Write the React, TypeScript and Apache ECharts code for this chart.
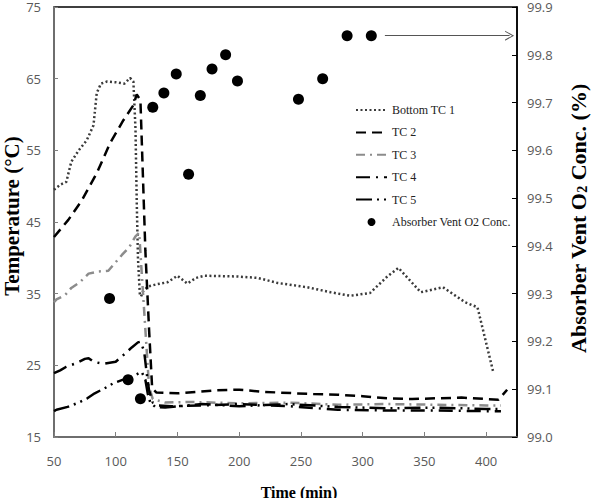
import React, { useEffect, useRef } from "react";
import * as echarts from "echarts";

// Time axis ticks (min)
const timeTicks = [50, 100, 150, 200, 250, 300, 350, 400];

// Thermocouple readings: [time (min), temperature (°C)]
const tc1: [number, number][] = [
  [50, 49.5], [55, 50.2], [60, 50.6], [64, 53.4], [70, 55], [76.5, 56.4], [82, 58.5], [84.6, 63],
  [88, 64.3], [93, 64.6], [100, 64.5], [107, 64.3], [111.6, 65.1], [114.3, 64.6], [116, 58],
  [117, 48], [118, 40], [119.5, 35], [120.5, 34.6], [122, 35.3], [126, 36], [133, 36.3],
  [142, 36.6], [150, 37.5], [158, 36.4], [165, 37.2], [172, 37.5], [198, 37.4], [215, 37.2],
  [231, 36.5], [255, 35.9], [274, 35.2], [290, 34.7], [306, 35.1], [320, 37.4], [329, 38.6],
  [347, 35.2], [365, 35.9], [383, 33.8], [393, 33.1], [406, 23.9],
];
const tc2: [number, number][] = [
  [50, 42.9], [61.6, 45.3], [72.5, 48], [84.6, 51.8], [95.4, 56], [106.2, 59.2], [114.3, 61.3],
  [117, 62.8], [120, 62], [124, 41], [127, 30], [129.5, 21.8], [133, 21.2], [150, 21.1],
  [165, 21.3], [180, 21.5], [200, 21.6], [220, 21.3], [245, 21.1], [260, 21.0], [280, 20.9],
  [300, 20.7], [320, 20.4], [340, 20.3], [360, 20.4], [380, 20.5], [400, 20.3], [410, 20.2],
  [417, 21.6],
];
const tc3: [number, number][] = [
  [50, 33.8], [52, 34.2], [59, 34.8], [64, 35.8], [71, 36.6], [78, 37.8], [86, 38.1], [94, 38.2],
  [99.5, 39.3], [105, 40.4], [111, 41.5], [116, 43], [119, 43.5], [121, 38], [124, 30], [127, 22],
  [130, 20.3], [140, 19.8], [160, 19.9], [200, 19.7], [240, 19.8], [280, 19.5], [320, 19.6],
  [360, 19.5], [400, 19.4], [412, 19.4],
];
const tc4: [number, number][] = [
  [50, 23.9], [55, 24.3], [60, 24.8], [68, 25.3], [75, 25.9], [78, 26], [82, 25.5], [90, 25.2],
  [100, 25.5], [108, 26.7], [113, 27.5], [118, 28.2], [120, 28.3], [123, 27], [125, 24], [127, 21.5],
  [130, 19.8], [135, 19.4], [145, 19.3], [170, 19.4], [200, 19.6], [240, 19.3], [280, 18.8],
  [320, 18.7], [360, 18.7], [400, 18.6], [412, 18.6],
];
const tc5: [number, number][] = [
  [50, 18.6], [52, 18.8], [61, 19.2], [70, 19.8], [77, 20.4], [83, 21.1], [91, 21.8], [98, 22.5],
  [106, 23], [113, 23.4], [121, 24.1], [124, 23], [126, 21], [128, 19.8], [132, 19.2], [140, 19.1],
  [170, 19.6], [200, 19.3], [240, 19.6], [280, 19.2], [320, 19.0], [360, 19.1], [400, 18.9],
  [412, 18.9],
];

// Absorber vent O2 concentration (%)
const o2Time = [95, 110, 120, 130, 139, 149, 159, 168.5, 178, 189, 198.6, 248, 267.6, 287.4, 307];
const o2Conc = [99.29, 99.12, 99.08, 99.69, 99.72, 99.76, 99.55, 99.715, 99.77, 99.8, 99.745, 99.707, 99.75, 99.84, 99.84];
// Arrow pointing the O2 points at their axis
const arrowFrom: [number, number] = [318, 99.84];
const arrowTo: [number, number] = [419, 99.84];

export default function App() {
  const ref = useRef<HTMLDivElement>(null);

  useEffect(() => {
    document.body.style.margin = "0";
    const chart = echarts.init(ref.current!, null, { renderer: "svg" });
    const serif = "'Liberation Serif', 'Times New Roman', serif";
    const sans = "'Open Sans', 'Liberation Sans', sans-serif";
    const labelColor = "#595959";

    const lineSeries = (name: string, data: [number, number][], color: string, type: any, width = 2.5) => ({
      name,
      type: "line",
      data,
      yAxisIndex: 0,
      symbol: "none",
      lineStyle: { color, width, type, cap: "butt" },
      itemStyle: { color },
      z: 2,
    });

    chart.setOption({
      animation: false,
      grid: {
        left: 54, right: 76, top: 7, bottom: 61,
        outerBoundsMode: "none",
        containLabel: false,
        show: true, borderColor: "#000", borderWidth: 1.5,
      },
      legend: {
        orient: "vertical",
        left: 355,
        top: 104,
        padding: 0,
        itemWidth: 31,
        itemHeight: 8,
        itemGap: 10.4,
        itemStyle: { opacity: 0 },
        textStyle: { fontFamily: serif, fontSize: 12, color: "#222" },
        data: [
          "Bottom TC 1", "TC 2", "TC 3", "TC 4", "TC 5",
          { name: "Absorber Vent O2 Conc.", icon: "circle", itemStyle: { opacity: 1, color: "#000" } },
        ],
      },
      xAxis: {
        type: "value",
        min: 50,
        max: 425,
        interval: 50,
        name: "Time (min)",
        nameLocation: "middle",
        nameGap: 47.5,
        nameMoveOverlap: false,
        nameTextStyle: { fontFamily: serif, fontWeight: "bold", fontSize: 16, color: "#000", padding: [0, 0, 0, 27] },
        axisLine: { show: true, lineStyle: { color: "#7f7f7f", width: 1.5 } },
        axisTick: { show: true, inside: true, length: 5, customValues: timeTicks, lineStyle: { color: "#7f7f7f" } },
        axisLabel: { customValues: timeTicks, color: labelColor, fontFamily: sans, fontSize: 13, margin: 17 },
        splitLine: { show: false },
      },
      yAxis: [
        {
          type: "value",
          min: 15,
          max: 75,
          interval: 10,
          name: "Temperature (°C)",
          nameLocation: "middle",
          nameRotate: 90,
          nameGap: 32,
          nameMoveOverlap: false,
          nameTextStyle: { fontFamily: serif, fontWeight: "bold", fontSize: 21, color: "#000", padding: [0, 0, 0, 12] },
          axisLine: { show: true, lineStyle: { color: "#7f7f7f", width: 1.5 } },
          axisTick: { show: true, inside: true, length: 4, lineStyle: { color: "#7f7f7f" } },
          axisLabel: { color: labelColor, fontFamily: sans, fontSize: 13, margin: 13, padding: [5, 0, 0, 0] },
          splitLine: { show: false },
        },
        {
          type: "value",
          position: "right",
          min: 99.0,
          max: 99.9,
          interval: 0.1,
          name: "Absorber Vent O{sub|2} Conc. (%)",
          nameLocation: "middle",
          nameRotate: 90,
          nameGap: 49.5,
          nameMoveOverlap: false,
          nameTextStyle: {
            fontFamily: serif, fontWeight: "bold", fontSize: 22, color: "#000", padding: [0, 0, 0, 7],
            rich: { sub: { fontFamily: serif, fontWeight: "bold", fontSize: 14, color: "#000", padding: [9, 0, 0, 0], verticalAlign: "bottom" } },
          },
          axisLine: { show: true, lineStyle: { color: "#000", width: 1.5 } },
          axisTick: { show: true, inside: true, length: 5, lineStyle: { color: "#000" } },
          axisLabel: {
            color: labelColor, fontFamily: sans, fontSize: 13, margin: 10, padding: [5, 0, 0, 0],
            formatter: (v: number) => v.toFixed(1),
          },
          splitLine: { show: false },
        },
      ],
      series: [
        lineSeries("Bottom TC 1", tc1, "#3a3a3a", [2, 2.5], 2.5),
        lineSeries("TC 2", tc2, "#000", [10, 6], 2.5),
        lineSeries("TC 3", tc3, "#8c8c8c", [9, 5, 2, 5], 2.5),
        lineSeries("TC 4", tc4, "#000", [14, 6, 2, 6], 2.5),
        lineSeries("TC 5", tc5, "#000", [16, 5, 2, 5, 2, 5], 2.5),
        {
          name: "Absorber Vent O2 Conc.",
          type: "scatter",
          yAxisIndex: 1,
          symbol: "circle",
          symbolSize: 11,
          itemStyle: { color: "#000", opacity: 1 },
          data: o2Time.map((t, i) => [t, o2Conc[i]]),
          z: 3,
          markLine: {
            silent: true,
            symbol: ["none", "path://M0,10 L5,0 L10,10 L8.8,10 L5,2.2 L1.2,10 Z"],
            symbolSize: [10, 9],
            label: { show: false },
            lineStyle: { color: "#555", width: 1, type: "solid" },
            data: [[{ coord: arrowFrom }, { coord: arrowTo }]],
          },
        },
      ],
    });

    return () => chart.dispose();
  }, []);

  return <div ref={ref} style={{ width: 593, height: 498 }} />;
}
